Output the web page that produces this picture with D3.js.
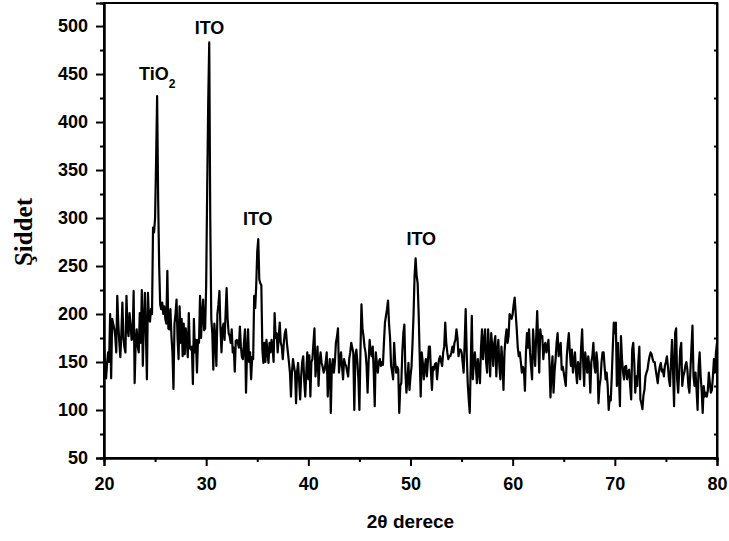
<!DOCTYPE html>
<html>
<head>
<meta charset="utf-8">
<script src="https://cdn.jsdelivr.net/npm/d3@7"></script>
<style>
	body { margin: 0; background: #fff; }
	svg { display: block; }
	.tick text { font-family: "Liberation Sans", Arial, sans-serif; font-weight: bold; font-size: 18px; fill: #000; }
</style>
</head>
<body>
<svg id="chart" width="729" height="541"></svg>
<script>
// XRD pattern, 2theta from 20 to 80 every 0.1 degree
var thetaStart = 20, thetaStep = 0.1;
var intensity = [
	165, 150, 133, 148, 160, 150, 200, 133, 195, 190, // 20
	185, 177, 160, 219, 190, 170, 155, 180, 212, 175, // 21
	165, 160, 219, 185, 177, 201, 190, 173, 175, 224, // 22
	128, 170, 184, 166, 160, 201, 170, 225, 146, 190, // 23
	222, 180, 132, 222, 195, 192, 205, 200, 290, 285, // 24
	300, 360, 427, 320, 250, 210, 205, 212, 200, 208, // 25
	195, 190, 245, 185, 184, 205, 177, 160, 122, 190, // 26
	200, 215, 175, 153, 208, 170, 195, 156, 190, 158, // 27
	185, 173, 155, 201, 165, 163, 166, 127, 195, 160, // 28
	173, 139, 173, 170, 219, 175, 200, 215, 183, 185, // 29
	230, 330, 420, 483, 300, 195, 180, 142, 190, 175, // 30
	146, 200, 210, 224, 185, 160, 185, 190, 173, 200, // 31
	227, 195, 180, 177, 170, 184, 160, 165, 140, 172, // 32
	173, 170, 165, 187, 166, 155, 153, 170, 184, 118, // 33
	160, 184, 150, 160, 132, 155, 153, 219, 206, 230, // 34
	265, 278, 236, 232, 230, 163, 149, 170, 150, 173, // 35
	160, 149, 170, 160, 173, 165, 150, 201, 175, 180, // 36
	160, 176, 191, 170, 166, 153, 170, 180, 184, 170, // 37
	160, 150, 139, 114, 140, 153, 145, 139, 107, 140, // 38
	149, 130, 111, 135, 150, 156, 130, 114, 139, 160, // 39
	132, 157, 114, 150, 153, 170, 185, 135, 150, 166, // 40
	125, 150, 160, 149, 145, 139, 142, 150, 160, 114, // 41
	140, 153, 97, 145, 153, 139, 150, 170, 176, 185,  // 42
	139, 150, 160, 145, 132, 153, 148, 146, 140, 135, // 43
	153, 160, 170, 165, 160, 100, 155, 163, 150, 132, // 44
	100, 160, 210, 185, 177, 166, 160, 146, 118, 150, // 45
	173, 160, 156, 166, 140, 104, 160, 150, 139, 150, // 46
	153, 146, 150, 147, 170, 191, 198, 205, 214, 190, // 47
	175, 146, 140, 132, 170, 150, 139, 145, 142, 97,  // 48
	125, 128, 160, 180, 189, 140, 118, 132, 149, 121, // 49
	135, 145, 170, 200, 240, 258, 240, 232, 200, 156, // 50
	114, 160, 150, 132, 145, 153, 135, 150, 166, 166, // 51
	140, 121, 145, 142, 148, 149, 132, 145, 153, 156, // 52
	150, 146, 160, 166, 191, 170, 160, 153, 156, 156, // 53
	160, 166, 160, 170, 173, 184, 175, 156, 163, 163, // 54
	160, 150, 139, 170, 205, 160, 128, 111, 97, 150,  // 55
	198, 132, 150, 160, 145, 128, 153, 140, 128, 165, // 56
	184, 153, 170, 184, 150, 139, 184, 160, 135, 180, // 57
	166, 146, 170, 177, 135, 160, 173, 145, 132, 166, // 58
	150, 121, 160, 175, 184, 170, 177, 200, 198, 195, // 59
	200, 210, 217, 200, 184, 165, 156, 160, 150, 139, // 60
	145, 142, 120, 160, 180, 165, 184, 160, 145, 132, // 61
	184, 165, 146, 175, 203, 170, 139, 184, 175, 177, // 62
	153, 166, 170, 160, 165, 173, 150, 113, 140, 156, // 63
	118, 140, 153, 170, 180, 156, 165, 170, 142, 145, // 64
	139, 132, 125, 156, 170, 180, 160, 146, 163, 139, // 65
	150, 160, 140, 128, 150, 146, 132, 165, 184, 150, // 66
	125, 160, 150, 139, 156, 145, 118, 150, 156, 170, // 67
	145, 139, 160, 150, 107, 125, 132, 150, 160, 160, // 68
	145, 132, 139, 125, 100, 114, 110, 135, 165, 191, // 69
	180, 191, 125, 170, 135, 104, 177, 153, 140, 132, // 70
	145, 146, 132, 140, 142, 125, 111, 163, 170, 150, // 71
	118, 135, 125, 150, 166, 111, 107, 101, 115, 121, // 72
	135, 139, 142, 150, 156, 160, 158, 153, 150, 150, // 73
	142, 135, 128, 139, 145, 149, 140, 142, 135, 146, // 74
	150, 156, 145, 132, 125, 150, 173, 140, 104, 180, // 75
	185, 132, 118, 140, 163, 170, 125, 135, 139, 146, // 76
	150, 142, 125, 118, 142, 165, 188, 135, 125, 139, // 77
	121, 100, 145, 160, 135, 120, 97, 125, 114, 118,  // 78
	114, 120, 139, 128, 118, 121, 135, 153, 139, 160, // 79
	170                                                // 80
];

var xTicks = [20, 30, 40, 50, 60, 70, 80];
var xMinorTicks = [25, 35, 45, 55, 65, 75];
var yTicks = [50, 100, 150, 200, 250, 300, 350, 400, 450, 500];
var yMinorTicks = [75, 125, 175, 225, 275, 325, 375, 425, 475];

var peakLabels = ["ITO", "ITO", "ITO"];
var peakTheta = [30.33, 35.05, 51.05];
var peakLabelLevel = [492, 293, 272];

var xLabel = "2θ derece";
var yLabel = "Şiddet";

var margin = {top: 3, right: 12, bottom: 83, left: 104};
var W = 729, H = 541;

var svg = d3.select("#chart");

var x = d3.scaleLinear().domain([20, 80]).range([margin.left, W - margin.right]);
var y = d3.scaleLinear().domain([50, 524]).range([H - margin.bottom, margin.top]);

var data = intensity.map(function(v, i) {
	return {theta: thetaStart + i * thetaStep, value: v};
});

// pattern
var line = d3.line()
	.x(function(d) { return x(d.theta); })
	.y(function(d) { return y(d.value); });

svg.append("path")
	.datum(data)
	.attr("d", line)
	.attr("fill", "none")
	.attr("stroke", "#000")
	.attr("stroke-width", 2.2)
	.attr("stroke-linejoin", "round");

// frame
svg.append("rect")
	.attr("x", x(20))
	.attr("y", y(524))
	.attr("width", x(80) - x(20))
	.attr("height", y(50) - y(524))
	.attr("fill", "none")
	.attr("stroke", "#000")
	.attr("stroke-width", 2);

// bottom axis
var gx = svg.append("g")
	.attr("transform", "translate(0," + y(50) + ")")
	.call(d3.axisBottom(x).tickValues(xTicks).tickSize(8).tickPadding(8).tickFormat(d3.format("d")));
svg.append("g")
	.attr("transform", "translate(0," + y(50) + ")")
	.call(d3.axisBottom(x).tickValues(xMinorTicks).tickSize(4).tickFormat(""));

// left axis
var gy = svg.append("g")
	.attr("transform", "translate(" + x(20) + ",0)")
	.call(d3.axisLeft(y).tickValues(yTicks).tickSize(8).tickPadding(8).tickFormat(d3.format("d")));
svg.append("g")
	.attr("transform", "translate(" + x(20) + ",0)")
	.call(d3.axisLeft(y).tickValues(yMinorTicks).tickSize(4).tickFormat(""));

// right axis, small ticks pointing in
svg.append("g")
	.attr("transform", "translate(" + x(80) + ",0)")
	.call(d3.axisLeft(y).tickValues(yMinorTicks).tickSize(3).tickFormat(""));

svg.selectAll(".domain").attr("stroke-width", 2);
svg.selectAll(".tick line").attr("stroke-width", 2);

gx.selectAll(".tick text").attr("dy", "0.9em");

// peak labels
svg.selectAll(".peak_label")
	.data(peakLabels)
	.enter()
	.append("text")
	.attr("class", "peak_label")
	.attr("x", function(d, i) { return x(peakTheta[i]); })
	.attr("y", function(d, i) { return y(peakLabelLevel[i]); })
	.attr("text-anchor", "middle")
	.attr("font-family", "Liberation Sans, Arial, sans-serif")
	.attr("font-weight", "bold")
	.attr("font-size", 18)
	.text(function(d) { return d; });

var tio2 = svg.append("text")
	.attr("x", x(23.43))
	.attr("y", y(444))
	.attr("font-family", "Liberation Sans, Arial, sans-serif")
	.attr("font-weight", "bold")
	.attr("font-size", 18);
tio2.append("tspan").text("TiO");
tio2.append("tspan").attr("dy", 8).attr("font-size", 12).text("2");

// axis titles
svg.append("text")
	.attr("x", (x(20) + x(80)) / 2)
	.attr("y", 528)
	.attr("text-anchor", "middle")
	.attr("font-family", "Liberation Sans, Arial, sans-serif")
	.attr("font-weight", "bold")
	.attr("font-size", 19)
	.text(xLabel);

svg.append("text")
	.attr("transform", "translate(32," + 232 + ") rotate(-90)")
	.attr("text-anchor", "middle")
	.attr("font-family", "Liberation Serif, 'Times New Roman', serif")
	.attr("font-weight", "bold")
	.attr("font-size", 25)
	.text(yLabel);
</script>
</body>
</html>
